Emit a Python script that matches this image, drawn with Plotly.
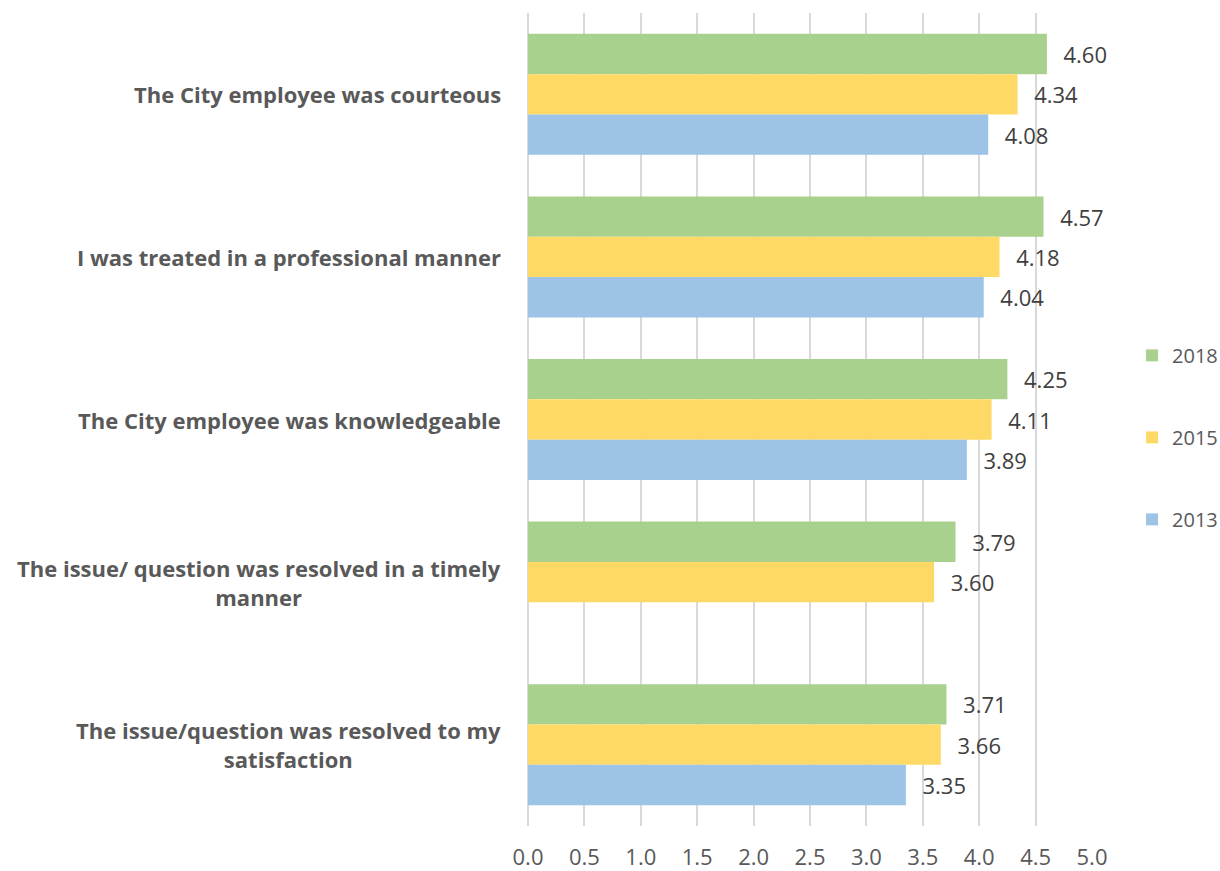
import plotly.graph_objects as go

categories = [
    "The City employee was courteous",
    "I was treated in a professional manner",
    "The City employee was knowledgeable",
    "The issue/ question was resolved in a timely<br>manner",
    "The issue/question was resolved to my<br>satisfaction",
]
years = ["2018", "2015", "2013"]
values_2018 = [4.60, 4.57, 4.25, 3.79, 3.71]
values_2015 = [4.34, 4.18, 4.11, 3.60, 3.66]
values_2013 = [4.08, 4.04, 3.89, None, 3.35]
colors = ["#A9D18E", "#FFD966", "#9DC3E6"]
x_ticks = [0.0, 0.5, 1.0, 1.5, 2.0, 2.5, 3.0, 3.5, 4.0, 4.5, 5.0]

series = [values_2018, values_2015, values_2013]
ids = list(range(len(categories)))

fig = go.Figure()
for name, vals, col in zip(years, series, colors):
    fig.add_trace(go.Bar(
        y=ids, x=vals, name=name, orientation="h",
        marker=dict(color=col, line=dict(width=0)),
        text=[("\u00a0\u00a0\u200a" + f"{v:.2f}") if v is not None else "" for v in vals],
        textposition="outside",
        textfont=dict(family="Open Sans", size=22, color="#404040"),
        cliponaxis=False,
        legendgroup=name,
    ))

for i, c in enumerate(categories):
    fig.add_annotation(
        x=-0.044, xref="paper", y=i, yref="y", text="<b>" + c + "</b>",
        xanchor="right", yanchor="middle", align="center", showarrow=False,
        font=dict(family="Open Sans", size=22, color="#595959"),
    )

fig.update_layout(
    width=1220, height=871,
    margin=dict(l=528, r=128, t=13, b=45, autoexpand=False),
    paper_bgcolor="white", plot_bgcolor="white",
    barmode="group", bargap=0.256, bargroupgap=0,
    showlegend=True,
    legend=dict(x=1.071, y=0.478, xanchor="left", yanchor="middle",
                font=dict(family="Open Sans", size=20, color="#595959"),
                tracegroupgap=53, traceorder="grouped"),
    xaxis=dict(range=[0, 5], tickvals=x_ticks, tickformat=".1f",
               showgrid=True, gridcolor="#D9D9D9", gridwidth=1.5,
               zeroline=True, zerolinecolor="#D9D9D9", zerolinewidth=1.5,
               showline=False, ticks="outside", ticklen=12, tickcolor="rgba(0,0,0,0)",
               tickfont=dict(family="Open Sans", size=22, color="#595959")),
    yaxis=dict(showticklabels=False, showgrid=False,
               zeroline=False, showline=False),
)
fig.update_yaxes(range=[len(categories) - 0.5, -0.5], autorange=False)

fig.write_html(
    "out.html",
    config={"displayModeBar": False},
    post_script="document.body.style.margin='0px';document.body.style.overflow='hidden';",
)
